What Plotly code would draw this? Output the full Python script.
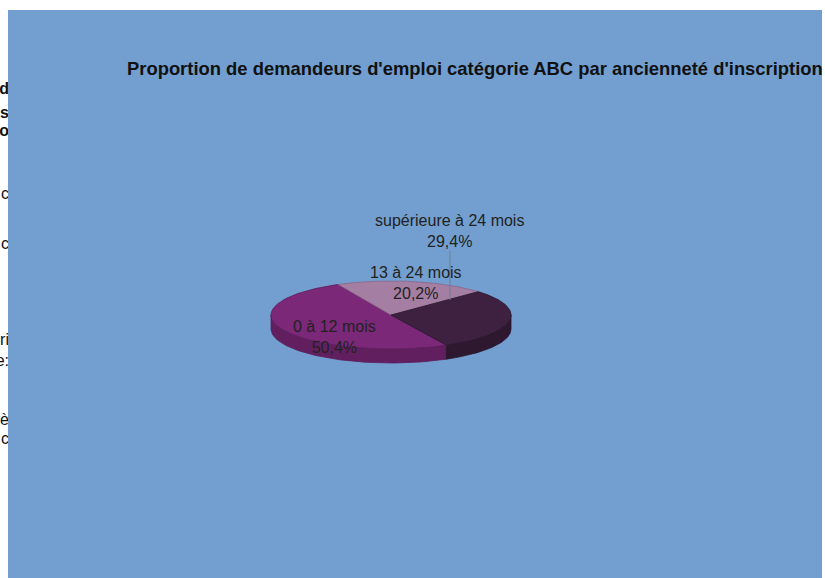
import numpy as np
import plotly.graph_objects as go

# ---- data -------------------------------------------------------------
categories = ["0 à 12 mois", "13 à 24 mois", "supérieure à 24 mois"]
shares = [50.4, 20.2, 29.4]
title_text = "Proportion de demandeurs d'emploi catégorie ABC par ancienneté d'inscription"

# ---- styling ----------------------------------------------------------
W, H = 825, 578
BG_BLUE = "#729fcf"
TOP_COLORS = ["#7b2878", "#a57fa3", "#3e2140"]
SIDE_COLORS = ["#621f60", "#85657f", "#2e1830"]
EDGE_COLORS = ["#5e1d5b", "#8a6688", "#2c162e"]

# pie geometry in pixel units (y grows downward)
CX, CY, RX, RY, DEPTH = 391.0, 315.0, 120.0, 34.0, 14.0
START_DEG = -62.5          # parametric angle where the first slice begins
CLOCKWISE = True

# label placement (pixel units) for each category
label_pos = [(334, 337), (416, 283), (449, 231)]
leader = ((450, 251), (450, 300))

FONT = "Liberation Sans, Arial, sans-serif"


def ellipse_pt(t_deg, dy=0.0):
    t = np.radians(t_deg)
    return CX + RX * np.cos(t), CY - RY * np.sin(t) + dy


def arc(t1, t2, dy=0.0, n=None):
    if n is None:
        n = max(int(abs(t2 - t1) / 1.5) + 2, 3)
    ts = np.linspace(t1, t2, n)
    xs, ys = ellipse_pt(ts, dy)
    return list(xs), list(ys)


fig = go.Figure()

# slice angle intervals
total = float(sum(shares))
intervals = []
a = START_DEG
for v in shares:
    span = 360.0 * v / total
    b = a - span if CLOCKWISE else a + span
    intervals.append((min(a, b), max(a, b)))
    a = b

# side walls: only the front half (180..360 deg) is visible
for i, (lo, hi) in enumerate(intervals):
    shift = np.floor(lo / 360.0) * 360.0
    lo_n, hi_n = lo - shift, hi - shift
    for wlo, whi in [(180.0, 360.0), (540.0, 720.0)]:
        s, e = max(lo_n, wlo), min(hi_n, whi)
        if e - s <= 0:
            continue
        xt, yt = arc(s, e)
        xb, yb = arc(e, s, dy=DEPTH)
        fig.add_trace(go.Scatter(
            x=xt + xb + [xt[0]], y=yt + yb + [yt[0]],
            mode="lines", fill="toself", fillcolor=SIDE_COLORS[i],
            line=dict(color=EDGE_COLORS[i], width=0.8),
            hoverinfo="skip", showlegend=False))

# top faces
for i, (lo, hi) in enumerate(intervals):
    xs, ys = arc(lo, hi)
    fig.add_trace(go.Scatter(
        x=[CX] + xs + [CX], y=[CY] + ys + [CY],
        mode="lines", fill="toself", fillcolor=TOP_COLORS[i],
        line=dict(color=EDGE_COLORS[i], width=0.8),
        name=categories[i], hoverinfo="name", showlegend=False))

# data labels
def fmt_pct(v):
    return f"{v:.1f}".replace(".", ",") + "%"

for (lx, ly), cat, v in zip(label_pos, categories, shares):
    fig.add_annotation(x=lx, y=ly, xref="x", yref="y",
                       text=f"{cat}<br>{fmt_pct(v)}", showarrow=False,
                       font=dict(family=FONT, size=16, color="#222222"),
                       align="center", xanchor="center", yanchor="middle")

fig.add_shape(type="line", xref="x", yref="y",
              x0=leader[0][0], y0=leader[0][1], x1=leader[1][0], y1=leader[1][1],
              line=dict(color="#6b7f95", width=1))

# chart area background
fig.add_shape(type="rect", xref="paper", yref="paper", layer="below",
              x0=8 / W, x1=822 / W, y0=0, y1=(H - 10) / H,
              fillcolor=BG_BLUE, line=dict(width=0))

# title
fig.add_annotation(x=125, y=68, xref="x", yref="y", text=f"<b>{title_text}</b>",
                   showarrow=False, xanchor="left", yanchor="middle",
                   font=dict(family=FONT, size=18.4, color="#111111"))

# text fragments running in from the left margin, clipped at the chart edge
frag_text = ["ad", "us", "ro", "c", "c", "ri", "e:", "rè", "c"]
frag_y = [90, 114, 132, 195, 245, 341, 362, 421, 440]
frag_bold = [True, True, True, False, False, False, False, False, False]
fig.add_trace(go.Scatter(
    x=[9] * len(frag_text), y=frag_y,
    text=[f"<b>{t}</b>" if b else t for t, b in zip(frag_text, frag_bold)],
    mode="text", textposition="middle left",
    textfont=dict(family=FONT, size=16, color="#111111"),
    cliponaxis=True, hoverinfo="skip", showlegend=False,
    xaxis="x2", yaxis="y2"))

fig.update_layout(
    width=W, height=H,
    margin=dict(l=0, r=0, t=0, b=0),
    paper_bgcolor="white",
    plot_bgcolor="rgba(0,0,0,0)",
    xaxis=dict(domain=[8 / W, 822 / W], range=[8, 822], visible=False, fixedrange=True),
    yaxis=dict(domain=[0, (H - 10) / H], range=[H, 10], visible=False, fixedrange=True),
    xaxis2=dict(domain=[0, 8 / W], range=[0, 8], visible=False, fixedrange=True,
                anchor="y2"),
    yaxis2=dict(domain=[0, 1], range=[H, 0], visible=False, fixedrange=True, anchor="x2"),
)

fig.write_html("out.html")
